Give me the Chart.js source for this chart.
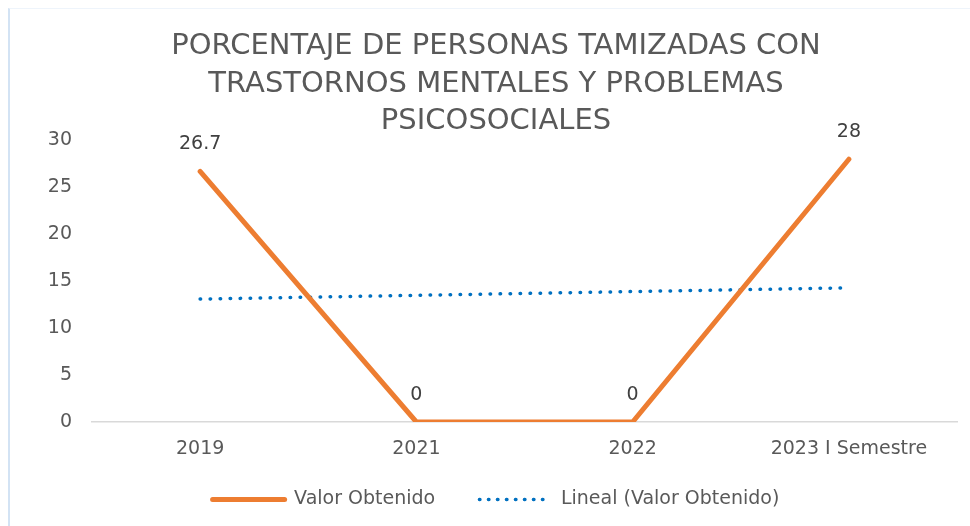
<!DOCTYPE html>
<html>
<head>
<meta charset="utf-8">
<script src="https://cdn.jsdelivr.net/npm/chart.js@4.4.1/dist/chart.umd.min.js"></script>
<style>
  html, body { margin: 0; padding: 0; background: #ffffff; }
  #wrap { position: relative; width: 970px; height: 526px; overflow: hidden; }
  #frame { position: absolute; left: 8px; top: 8px; right: -4px; bottom: -4px;
           border-left: 2px solid #d3e3f4; border-top: 1px solid #eef4fb; pointer-events: none; }
  canvas { position: absolute; left: 0; top: 0; }
</style>
</head>
<body>
<div id="wrap">
  <canvas id="c" width="970" height="526"></canvas>
  <div id="frame"></div>
</div>
<script>
const titleLines = ["PORCENTAJE DE PERSONAS TAMIZADAS CON", "TRASTORNOS MENTALES Y PROBLEMAS", "PSICOSOCIALES"];
const categories = ["2019", "2021", "2022", "2023 I Semestre"];
const valorObtenido = [26.7, 0, 0, 28];
const linealValorObtenido = [13.1, 13.5, 13.9, 14.3];
const seriesNames = ["Valor Obtenido", "Lineal (Valor Obtenido)"];
const yTicks = [0, 5, 10, 15, 20, 25, 30];

const FONT = "'DejaVu Sans', sans-serif";
const GRAY = "#595959";
const ORANGE = "#ED7D31";
const BLUE = "#0070C0";
const GAP = "\u00A0\u00A0\u00A0\u00A0\u00A0\u00A0";

const valueLabels = {
  id: "valueLabels",
  afterDatasetsDraw(chart) {
    const ctx = chart.ctx;
    const meta = chart.getDatasetMeta(0);
    ctx.save();
    ctx.font = "19px " + FONT;
    ctx.fillStyle = "#404040";
    ctx.textAlign = "center";
    ctx.textBaseline = "middle";
    meta.data.forEach((pt, i) => {
      ctx.fillText(String(valorObtenido[i]), pt.x, pt.y - 27);
    });
    ctx.restore();
  }
};

new Chart(document.getElementById("c"), {
  type: "line",
  data: {
    labels: categories,
    datasets: [
      {
        label: seriesNames[0],
        data: valorObtenido,
        borderColor: ORANGE,
        backgroundColor: ORANGE,
        borderWidth: 5,
        borderCapStyle: "round",
        borderJoinStyle: "round",
        pointRadius: 0,
        tension: 0,
        order: 1
      },
      {
        label: seriesNames[1],
        data: linealValorObtenido,
        borderColor: BLUE,
        backgroundColor: BLUE,
        borderWidth: 3.5,
        borderDash: [0.5, 9.5],
        borderCapStyle: "round",
        pointRadius: 0,
        tension: 0,
        order: 2
      }
    ]
  },
  options: {
    responsive: false,
    animation: false,
    devicePixelRatio: 1,
    layout: { padding: { left: 35, right: 13, top: 10, bottom: 7 } },
    plugins: {
      title: {
        display: true,
        text: titleLines,
        color: GRAY,
        font: { family: FONT, size: 29, weight: "normal", lineHeight: 1.293 },
        padding: { top: 18, bottom: 0 }
      },
      legend: {
        display: true,
        position: "bottom",
        labels: {
          color: GRAY,
          font: { family: FONT, size: 19 },
          usePointStyle: true,
          pointStyle: "line",
          pointStyleWidth: 72,
          boxHeight: 19,
          padding: 8,
          generateLabels(chart) {
            return chart.data.datasets.map((ds, i) => ({
              text: i === 0 ? ds.label + GAP : ds.label,
              fillStyle: ds.borderColor,
              strokeStyle: ds.borderColor,
              lineWidth: i === 0 ? 5 : 3.5,
              lineDash: i === 0 ? [] : [0.5, 8.5],
              lineCap: "round",
              pointStyle: "line",
              fontColor: GRAY,
              hidden: false,
              datasetIndex: i
            }));
          }
        }
      },
      tooltip: { enabled: false }
    },
    scales: {
      x: {
        offset: true,
        afterFit(scale) { scale.height = 60; },
        grid: { display: false },
        border: { display: true, color: "#d9d9d9", width: 1.5 },
        ticks: { color: GRAY, font: { family: FONT, size: 19 }, padding: 8, maxRotation: 0 }
      },
      y: {
        min: 0,
        max: 30,
        afterFit(scale) { scale.width = 57; },
        afterBuildTicks(scale) { scale.ticks = yTicks.map(v => ({ value: v })); },
        grid: { display: false },
        border: { display: false },
        ticks: { color: GRAY, font: { family: FONT, size: 19 }, padding: 12 }
      }
    }
  },
  plugins: [valueLabels]
});
</script>
</body>
</html>
